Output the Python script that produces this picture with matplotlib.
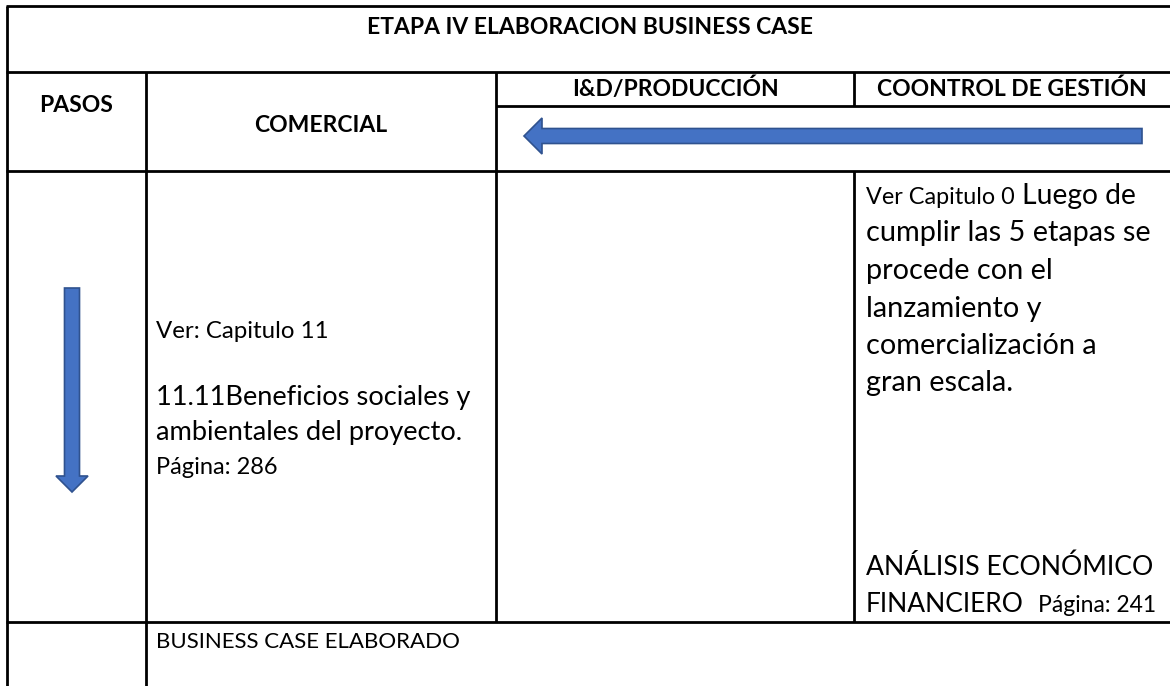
import matplotlib.pyplot as plt
from matplotlib.patches import FancyArrow

plt.rcParams['font.family'] = ['Lato', 'DejaVu Sans']

titulo = "ETAPA IV ELABORACION BUSINESS CASE"
cabeceras = ["PASOS", "COMERCIAL", "I&D/PRODUCCIÓN", "COONTROL DE GESTIÓN"]
comercial_txt = ["Ver: Capitulo 11", "11.11Beneficios sociales y",
                 "ambientales del proyecto.", "Página: 286"]
control_txt = ["cumplir las 5 etapas se", "procede con el", "lanzamiento y",
               "comercialización a", "gran escala."]
resultado = "BUSINESS CASE ELABORADO"

W, H = 1170, 686
fig = plt.figure(figsize=(W / 100, H / 100), dpi=100)
ax = fig.add_axes([0, 0, 1, 1])
ax.set_xlim(0, W)
ax.set_ylim(H, 0)
ax.axis('off')

lw = 2.0
# lineas de la tabla
for y, x0 in [(6, 6), (72, 6), (106, 496), (171, 6), (622, 6)]:
    ax.plot([x0, W], [y, y], color='black', lw=lw, solid_capstyle='butt')
for x, y0, y1 in [(6.5, 6, H), (146, 72, H), (496, 72, 622),
                  (854, 72, 106), (854, 171, 622)]:
    ax.plot([x, x], [y0, y1], color='black', lw=lw, solid_capstyle='butt')

# flechas
azul, borde = '#4472C4', '#2F528F'
ax.add_patch(FancyArrow(1142, 136, -618, 0, width=15, head_width=36,
                        head_length=18, length_includes_head=True,
                        fc=azul, ec=borde, lw=1.2))
ax.add_patch(FancyArrow(72, 288, 0, 204, width=15, head_width=32,
                        head_length=16, length_includes_head=True,
                        fc=azul, ec=borde, lw=1.2))

# cabeceras
hb = dict(ha='center', va='center', fontsize=16.5, fontweight='bold')
ax.text(590, 27, titulo, **hb)
ax.text(76, 106, cabeceras[0], **hb)
ax.text(321, 125, cabeceras[1], **hb)
ax.text(675, 89, cabeceras[2], **hb)
ax.text(1012, 89, cabeceras[3], **hb)

# columna comercial
ax.text(156, 338, comercial_txt[0], va='baseline', fontsize=17.3)
ax.text(156, 405, comercial_txt[1], va='baseline', fontsize=19.6)
ax.text(156, 440, comercial_txt[2], va='baseline', fontsize=19.6)
ax.text(156, 474, comercial_txt[3], va='baseline', fontsize=17)

# columna control de gestion
ax.text(866, 204, "Ver Capitulo 0", va='baseline', fontsize=16.8)
ax.text(1022, 204, "Luego de", va='baseline', fontsize=20.3)
for i, linea in enumerate(control_txt):
    ax.text(866, 241.5 + 37.5 * i, linea, va='baseline', fontsize=20.8)
ax.text(866, 575, "ANÁLISIS ECONÓMICO", va='baseline', fontsize=19.2)
ax.text(866, 612, "FINANCIERO", va='baseline', fontsize=19)
ax.text(1156, 612, "Página: 241", ha='right', va='baseline', fontsize=16.5)

ax.text(156, 648, resultado, va='baseline', fontsize=16)

fig.savefig('out.png', dpi=100)
